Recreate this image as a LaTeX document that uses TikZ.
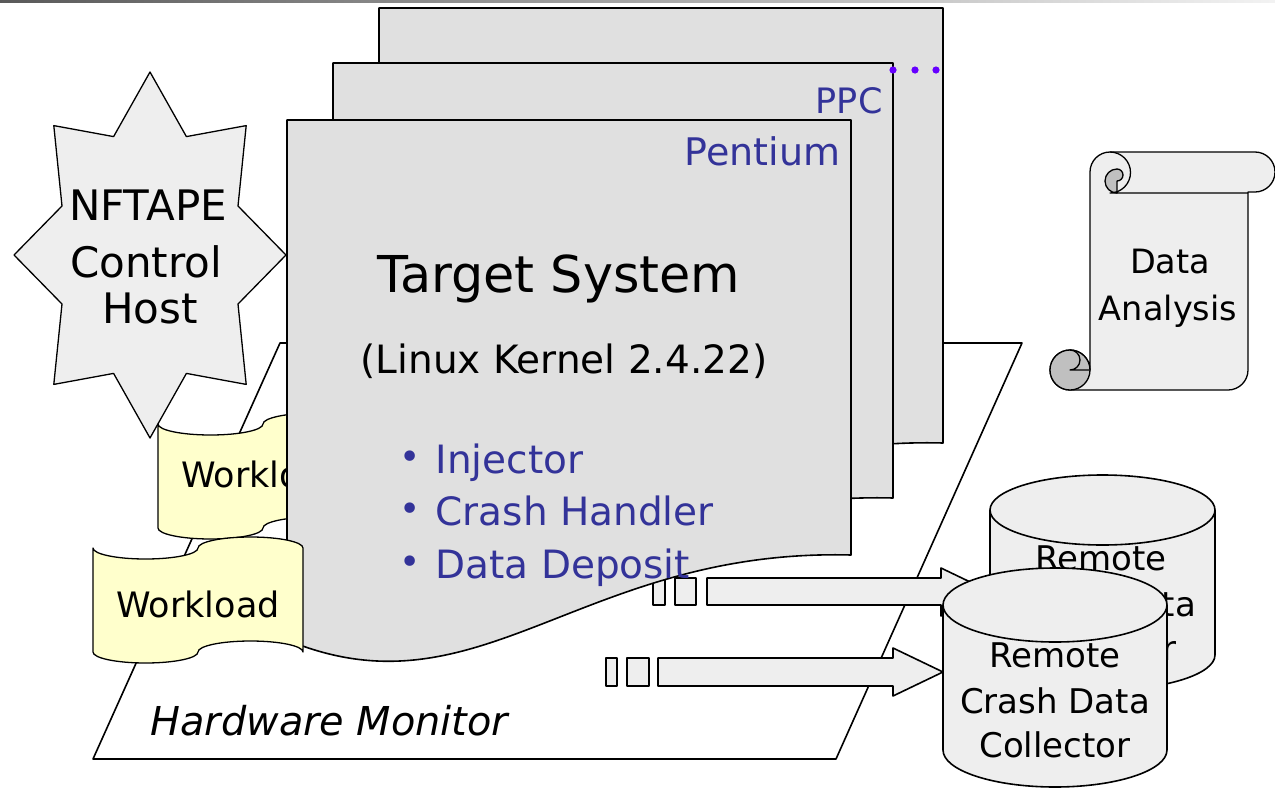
\documentclass[tikz,border=0pt]{standalone}
\usepackage{fontspec}
\setmainfont{DejaVu Sans}
\definecolor{docgray}{HTML}{E0E0E0}
\definecolor{lgray}{HTML}{EEEEEE}
\definecolor{rollgray}{HTML}{C0C0C0}
\definecolor{txtblue}{HTML}{333399}
\definecolor{dotviolet}{HTML}{6600FF}
\definecolor{tapeyellow}{HTML}{FFFFCC}
\newcommand\docoutline[1]{(0,0) -- (#1,0) -- (#1,435) .. controls ({#1-271},428) and ({#1-371},600) .. (0,520) -- cycle}
\newcommand\tapeoutline{(0,0) arc[start angle=180,end angle=0,x radius=52.5,y radius=11] arc[start angle=180,end angle=360,x radius=52.5,y radius=11] -- (210,104) arc[start angle=0,end angle=-180,x radius=52.5,y radius=11] arc[start angle=0,end angle=180,x radius=52.5,y radius=11] -- cycle}
\newcommand\fs[1]{\fontsize{#1}{#1}\selectfont}
\begin{document}
\begin{tikzpicture}[x=1pt,y=-1pt,line join=round,
  outl/.style={draw=black,line width=1.6pt},
  docshape/.style={outl,fill=docgray},
  lshape/.style={outl,fill=lgray},
  tape/.style={outl,line width=1.3pt,fill=tapeyellow},
  bigtxt/.style={font=\fs{50.8},anchor=base},
  midtxt/.style={font=\fs{39},anchor=base},
  bluetxt/.style={font=\fs{39},anchor=base west,text=txtblue},
  bul/.style={font=\fs{36},text=txtblue,inner sep=0pt},
  startxt/.style={font=\fs{42},anchor=base},
  wltxt/.style={font=\fs{35},anchor=base},
  datxt/.style={font=\fs{33.5},anchor=base},
  cyltxt/.style={font=\fs{34},anchor=base},
  hwtxt/.style={font=\fs{39.8}\itshape,anchor=base west}]
\useasboundingbox (0,0) rectangle (1275,790);
% top strip
\shade[left color=black!65,right color=black!5] (0,0) rectangle (1275,2.5);
% hardware monitor parallelogram
\draw[outl,fill=white] (280,343) -- (1022,343) -- (836,759) -- (93,759) -- cycle;
\node[hwtxt] (hw) at (147,735) {Hardware Monitor};
% back documents
\begin{scope}[shift={(379,8)}]
  \draw[docshape] \docoutline{564};
\end{scope}
\begin{scope}[shift={(333,63)}]
  \draw[docshape] \docoutline{560};
\end{scope}
\fill[dotviolet] (893,70) circle (3.6) (915,70) circle (3.6) (936,70) circle (3.6);
\node[font=\fs{35},anchor=base east,text=txtblue] (ppc) at (886,113) {PPC};
% star
\draw[lshape,line width=1.3pt] (286,255) -- (238,304) -- (246.2,384.4) -- (186.4,373.4) -- (150,438) -- (113.6,373.4) -- (53.8,384.4) -- (62,304) -- (14,255) -- (62,206) -- (53.8,125.6) -- (113.6,136.6) -- (150,72) -- (186.4,136.6) -- (246.2,125.6) -- (238,206) -- cycle;
\node[startxt] (nf1) at (148,220) {NFTAPE};
\node[startxt] (nf2) at (146,277) {Control};
\node[startxt] (nf3) at (150,323) {Host};
% first workload
\begin{scope}[shift={(158,424)}]
  \draw[tape] \tapeoutline;
\end{scope}
\node[wltxt] (wl1) at (263,487) {Workload};
% arrows
\draw[lshape] (653,578) rectangle (665,605) (675,578) rectangle (696,605);
\draw[lshape] (707,578) -- (941,578) -- (941,568) -- (991,592) -- (941,616) -- (941,605) -- (707,605) -- cycle;
\draw[lshape] (606,658) rectangle (617,686) (627,658) rectangle (649,686);
\draw[lshape] (658,658) -- (893,658) -- (893,648) -- (943,672) -- (893,696) -- (893,686) -- (658,686) -- cycle;
% front document
\begin{scope}[shift={(287,120)}]
  \draw[docshape] \docoutline{564};
\end{scope}
\node[font=\fs{38},anchor=base east,text=txtblue] (pent) at (844,165) {Pentium};
\node[bigtxt] (ts) at (559,292) {Target System};
\node[midtxt] (lk) at (564,373) {(Linux Kernel 2.4.22)};
\node[bul] (b1) at (410,460) {•};
\node[bul] (b2) at (410,512) {•};
\node[bul] (b3) at (410,565) {•};
\node[bluetxt] (inj) at (432,473) {Injector};
\node[bluetxt] (ch) at (432,525) {Crash Handler};
\node[bluetxt] (dd) at (432,578) {Data Deposit};
% second workload
\begin{scope}[shift={(93,548)}]
  \draw[tape] \tapeoutline;
\end{scope}
\node[wltxt] (wl2) at (198,617) {Workload};
% back cylinder
\draw[lshape] (990,510) -- (990,655) arc[start angle=180,end angle=0,x radius=112.5,y radius=35] -- (1215,510) arc[start angle=0,end angle=-180,x radius=112.5,y radius=35] -- cycle;
\draw[outl] (990,510) arc[start angle=180,end angle=0,x radius=112.5,y radius=35];
\node[cyltxt] (c1a) at (1101,570) {Remote};
\node[cyltxt] (c1b) at (1101,616) {Crash Data};
\node[cyltxt] (c1c) at (1101,660) {Collector};
% front cylinder
\draw[lshape] (943,605) -- (943,750) arc[start angle=180,end angle=0,x radius=112,y radius=37] -- (1167,605) arc[start angle=0,end angle=-180,x radius=112,y radius=37] -- cycle;
\draw[outl] (943,605) arc[start angle=180,end angle=0,x radius=112,y radius=37];
\node[cyltxt] (c2a) at (1055,667) {Remote};
\node[cyltxt] (c2b) at (1055,713) {Crash Data};
\node[cyltxt] (c2c) at (1055,757) {Collector};
% scroll
\draw[lshape,line width=1.3pt] (1090,172) arc[start angle=180,end angle=270,radius=20] -- (1255,152) arc[start angle=270,end angle=450,radius=20] -- (1248,192) -- (1248,370) arc[start angle=0,end angle=90,radius=20] -- (1070,390) arc[start angle=90,end angle=360,radius=20] -- cycle;
\draw[outl,line width=1.3pt,fill=rollgray] (1117,193) arc[start angle=90,end angle=270,radius=12] arc[start angle=-90,end angle=90,radius=6] -- cycle;
\draw[outl,line width=1.3pt] (1110,152) arc[start angle=-90,end angle=90,radius=20.5] -- (1248,193);
\draw[outl,line width=1.3pt,fill=rollgray] (1070,370) circle (20);
\draw[outl,line width=1.3pt] (1070,350) arc[start angle=-90,end angle=90,radius=10] -- (1090,370);
\node[datxt] (da1) at (1170,273) {Data};
\node[datxt] (da2) at (1168,320) {Analysis};
\end{tikzpicture}
\end{document}
